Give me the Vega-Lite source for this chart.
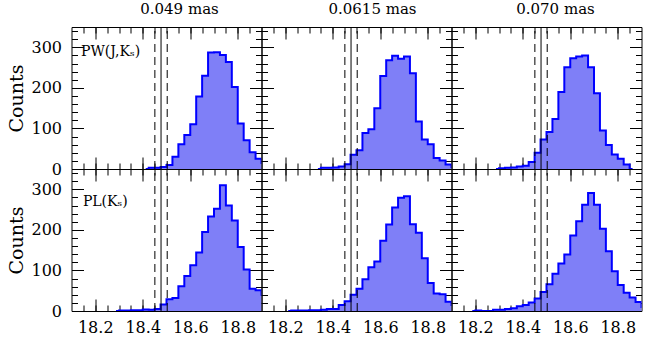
{
"$schema":"https://vega.github.io/schema/vega-lite/v6.json",
"padding":{"left":6.5,"top":1,"right":0,"bottom":0},
"datasets":{
"dash":[{"v":18.451},{"v":18.503}],
"solid":[{"v":18.477}],
"h":[
{"r":"PW","c":1,"x":18.4125,"n":0},{"r":"PW","c":1,"x":18.4375,"n":3},{"r":"PW","c":1,"x":18.4625,"n":3},{"r":"PW","c":1,"x":18.4875,"n":5},{"r":"PW","c":1,"x":18.5125,"n":10},{"r":"PW","c":1,"x":18.5375,"n":30},{"r":"PW","c":1,"x":18.5625,"n":61},{"r":"PW","c":1,"x":18.5875,"n":84},{"r":"PW","c":1,"x":18.6125,"n":110},{"r":"PW","c":1,"x":18.6375,"n":179},{"r":"PW","c":1,"x":18.6625,"n":230},{"r":"PW","c":1,"x":18.6875,"n":287},{"r":"PW","c":1,"x":18.7125,"n":288},{"r":"PW","c":1,"x":18.7375,"n":281},{"r":"PW","c":1,"x":18.7625,"n":264},{"r":"PW","c":1,"x":18.7875,"n":202},{"r":"PW","c":1,"x":18.8125,"n":112},{"r":"PW","c":1,"x":18.8375,"n":71},{"r":"PW","c":1,"x":18.8625,"n":41},{"r":"PW","c":1,"x":18.8875,"n":25},{"r":"PW","c":1,"x":18.9125,"n":15},
{"r":"PW","c":2,"x":18.3375,"n":0},{"r":"PW","c":2,"x":18.3625,"n":3},{"r":"PW","c":2,"x":18.3875,"n":3},{"r":"PW","c":2,"x":18.4125,"n":4},{"r":"PW","c":2,"x":18.4375,"n":6},{"r":"PW","c":2,"x":18.4625,"n":12},{"r":"PW","c":2,"x":18.4875,"n":35},{"r":"PW","c":2,"x":18.5125,"n":46},{"r":"PW","c":2,"x":18.5375,"n":89},{"r":"PW","c":2,"x":18.5625,"n":98},{"r":"PW","c":2,"x":18.5875,"n":150},{"r":"PW","c":2,"x":18.6125,"n":229},{"r":"PW","c":2,"x":18.6375,"n":268},{"r":"PW","c":2,"x":18.6625,"n":279},{"r":"PW","c":2,"x":18.6875,"n":272},{"r":"PW","c":2,"x":18.7125,"n":277},{"r":"PW","c":2,"x":18.7375,"n":236},{"r":"PW","c":2,"x":18.7625,"n":117},{"r":"PW","c":2,"x":18.7875,"n":73},{"r":"PW","c":2,"x":18.8125,"n":61},{"r":"PW","c":2,"x":18.8375,"n":27},{"r":"PW","c":2,"x":18.8625,"n":21},{"r":"PW","c":2,"x":18.8875,"n":11},{"r":"PW","c":2,"x":18.9125,"n":5},
{"r":"PW","c":3,"x":18.2875,"n":0},{"r":"PW","c":3,"x":18.3125,"n":2},{"r":"PW","c":3,"x":18.3375,"n":3},{"r":"PW","c":3,"x":18.3625,"n":4},{"r":"PW","c":3,"x":18.3875,"n":6},{"r":"PW","c":3,"x":18.4125,"n":8},{"r":"PW","c":3,"x":18.4375,"n":17},{"r":"PW","c":3,"x":18.4625,"n":40},{"r":"PW","c":3,"x":18.4875,"n":73},{"r":"PW","c":3,"x":18.5125,"n":91},{"r":"PW","c":3,"x":18.5375,"n":123},{"r":"PW","c":3,"x":18.5625,"n":190},{"r":"PW","c":3,"x":18.5875,"n":251},{"r":"PW","c":3,"x":18.6125,"n":273},{"r":"PW","c":3,"x":18.6375,"n":277},{"r":"PW","c":3,"x":18.6625,"n":280},{"r":"PW","c":3,"x":18.6875,"n":251},{"r":"PW","c":3,"x":18.7125,"n":187},{"r":"PW","c":3,"x":18.7375,"n":95},{"r":"PW","c":3,"x":18.7625,"n":59},{"r":"PW","c":3,"x":18.7875,"n":36},{"r":"PW","c":3,"x":18.8125,"n":25},{"r":"PW","c":3,"x":18.8375,"n":11},{"r":"PW","c":3,"x":18.8625,"n":0},
{"r":"PL","c":1,"x":18.2875,"n":0},{"r":"PL","c":1,"x":18.3125,"n":1},{"r":"PL","c":1,"x":18.3375,"n":1},{"r":"PL","c":1,"x":18.3625,"n":2},{"r":"PL","c":1,"x":18.3875,"n":2},{"r":"PL","c":1,"x":18.4125,"n":4},{"r":"PL","c":1,"x":18.4375,"n":3},{"r":"PL","c":1,"x":18.4625,"n":5},{"r":"PL","c":1,"x":18.4875,"n":16},{"r":"PL","c":1,"x":18.5125,"n":29},{"r":"PL","c":1,"x":18.5375,"n":32},{"r":"PL","c":1,"x":18.5625,"n":61},{"r":"PL","c":1,"x":18.5875,"n":86},{"r":"PL","c":1,"x":18.6125,"n":113},{"r":"PL","c":1,"x":18.6375,"n":144},{"r":"PL","c":1,"x":18.6625,"n":195},{"r":"PL","c":1,"x":18.6875,"n":233},{"r":"PL","c":1,"x":18.7125,"n":252},{"r":"PL","c":1,"x":18.7375,"n":310},{"r":"PL","c":1,"x":18.7625,"n":260},{"r":"PL","c":1,"x":18.7875,"n":223},{"r":"PL","c":1,"x":18.8125,"n":158},{"r":"PL","c":1,"x":18.8375,"n":102},{"r":"PL","c":1,"x":18.8625,"n":55},{"r":"PL","c":1,"x":18.8875,"n":51},{"r":"PL","c":1,"x":18.9125,"n":40},
{"r":"PL","c":2,"x":18.2125,"n":0},{"r":"PL","c":2,"x":18.2375,"n":1},{"r":"PL","c":2,"x":18.2625,"n":1},{"r":"PL","c":2,"x":18.2875,"n":1},{"r":"PL","c":2,"x":18.3125,"n":2},{"r":"PL","c":2,"x":18.3375,"n":2},{"r":"PL","c":2,"x":18.3625,"n":3},{"r":"PL","c":2,"x":18.3875,"n":5},{"r":"PL","c":2,"x":18.4125,"n":5},{"r":"PL","c":2,"x":18.4375,"n":15},{"r":"PL","c":2,"x":18.4625,"n":24},{"r":"PL","c":2,"x":18.4875,"n":40},{"r":"PL","c":2,"x":18.5125,"n":55},{"r":"PL","c":2,"x":18.5375,"n":78},{"r":"PL","c":2,"x":18.5625,"n":108},{"r":"PL","c":2,"x":18.5875,"n":122},{"r":"PL","c":2,"x":18.6125,"n":173},{"r":"PL","c":2,"x":18.6375,"n":213},{"r":"PL","c":2,"x":18.6625,"n":255},{"r":"PL","c":2,"x":18.6875,"n":279},{"r":"PL","c":2,"x":18.7125,"n":283},{"r":"PL","c":2,"x":18.7375,"n":214},{"r":"PL","c":2,"x":18.7625,"n":193},{"r":"PL","c":2,"x":18.7875,"n":130},{"r":"PL","c":2,"x":18.8125,"n":69},{"r":"PL","c":2,"x":18.8375,"n":43},{"r":"PL","c":2,"x":18.8625,"n":41},{"r":"PL","c":2,"x":18.8875,"n":23},{"r":"PL","c":2,"x":18.9125,"n":15},
{"r":"PL","c":3,"x":18.1875,"n":0},{"r":"PL","c":3,"x":18.2125,"n":1},{"r":"PL","c":3,"x":18.2375,"n":0},{"r":"PL","c":3,"x":18.2625,"n":0},{"r":"PL","c":3,"x":18.2875,"n":3},{"r":"PL","c":3,"x":18.3125,"n":3},{"r":"PL","c":3,"x":18.3375,"n":5},{"r":"PL","c":3,"x":18.3625,"n":7},{"r":"PL","c":3,"x":18.3875,"n":12},{"r":"PL","c":3,"x":18.4125,"n":15},{"r":"PL","c":3,"x":18.4375,"n":21},{"r":"PL","c":3,"x":18.4625,"n":31},{"r":"PL","c":3,"x":18.4875,"n":47},{"r":"PL","c":3,"x":18.5125,"n":66},{"r":"PL","c":3,"x":18.5375,"n":92},{"r":"PL","c":3,"x":18.5625,"n":117},{"r":"PL","c":3,"x":18.5875,"n":139},{"r":"PL","c":3,"x":18.6125,"n":186},{"r":"PL","c":3,"x":18.6375,"n":221},{"r":"PL","c":3,"x":18.6625,"n":262},{"r":"PL","c":3,"x":18.6875,"n":291},{"r":"PL","c":3,"x":18.7125,"n":262},{"r":"PL","c":3,"x":18.7375,"n":203},{"r":"PL","c":3,"x":18.7625,"n":147},{"r":"PL","c":3,"x":18.7875,"n":98},{"r":"PL","c":3,"x":18.8125,"n":64},{"r":"PL","c":3,"x":18.8375,"n":45},{"r":"PL","c":3,"x":18.8625,"n":33},{"r":"PL","c":3,"x":18.8875,"n":22},{"r":"PL","c":3,"x":18.9125,"n":10}
]},
"columns":3,
"spacing":0,
"bounds":"flush",
"concat":[
{"width":190,"height":142,"title":{"text":"0.049 mas","dx":13},
"layer":[
{"data":{"name":"h"},"transform":[{"filter":"datum.r=='PW'&&datum.c==1"}],"mark":{"type":"area","interpolate":"step","color":"#7f7ff7","clip":true},
"encoding":{"x":{"field":"x","type":"quantitative","scale":{"domain":[18.1,18.9],"nice":false,"zero":false},"axis":{"orient":"bottom","values":[18.15,18.2,18.25,18.3,18.35,18.4,18.45,18.5,18.55,18.6,18.65,18.7,18.75,18.8,18.85],"tickSize":-6,"labels":false,"title":null}},
"y":{"field":"n","type":"quantitative","scale":{"domain":[0,350],"nice":false},"axis":{"orient":"left","values":[20,40,60,80,100,120,140,160,180,200,220,240,260,280,300,320,340],"tickSize":-6,"labels":false,"title":null}}}},
{"data":{"name":"h"},"transform":[{"filter":"datum.r=='PW'&&datum.c==1"}],"mark":{"type":"line","interpolate":"step","color":"#0000ff","strokeWidth":2,"clip":true},
"encoding":{"x":{"field":"x","type":"quantitative","scale":{"domain":[18.1,18.9],"nice":false,"zero":false},"axis":{"orient":"top","values":[18.15,18.2,18.25,18.3,18.35,18.4,18.45,18.5,18.55,18.6,18.65,18.7,18.75,18.8,18.85],"tickSize":-6,"labels":false,"title":null}},
"y":{"field":"n","type":"quantitative","scale":{"domain":[0,350],"nice":false},"axis":{"orient":"right","values":[20,40,60,80,100,120,140,160,180,200,220,240,260,280,300,320,340],"tickSize":-6,"labels":false,"title":null}}}},
{"data":{"name":"dash"},"mark":{"type":"rule","color":"black","strokeWidth":1,"strokeDash":[8,5]},
"encoding":{"x":{"field":"v","type":"quantitative","scale":{"domain":[18.1,18.9],"nice":false,"zero":false},"axis":{"orient":"bottom","values":[18.2,18.4,18.6,18.8],"tickSize":-12,"labels":false,"title":null}},
"y":{"datum":0,"type":"quantitative","scale":{"domain":[0,350],"nice":false},"axis":{"orient":"left","values":[0,100,200,300],"tickSize":-12,"labels":true,"labelPadding":22,"title":"Counts","titlePadding":4}},"y2":{"datum":350}}},
{"data":{"name":"solid"},"mark":{"type":"rule","color":"black","strokeWidth":1},
"encoding":{"x":{"field":"v","type":"quantitative","scale":{"domain":[18.1,18.9],"nice":false,"zero":false},"axis":{"orient":"top","values":[18.2,18.4,18.6,18.8],"tickSize":-12,"labels":false,"title":null}},
"y":{"datum":0,"type":"quantitative","scale":{"domain":[0,350],"nice":false},"axis":{"orient":"right","values":[0,100,200,300],"tickSize":-12,"labels":false,"title":null}},"y2":{"datum":350}}},
{"data":{"values":[{"t":"PW(J,Kₛ)"}]},"mark":{"type":"text","align":"left","baseline":"alphabetic","fontSize":14,"font":"DejaVu Serif","color":"black"},
"encoding":{"x":{"datum":18.14,"type":"quantitative","scale":{"domain":[18.1,18.9],"nice":false,"zero":false},"axis":null},"y":{"datum":278,"type":"quantitative","scale":{"domain":[0,350],"nice":false},"axis":null},"text":{"field":"t"}}}
],
"resolve":{"axis":{"x":"independent","y":"independent"}}},
{"width":190,"height":142,"title":{"text":"0.0615 mas","dx":16},
"layer":[
{"data":{"name":"h"},"transform":[{"filter":"datum.r=='PW'&&datum.c==2"}],"mark":{"type":"area","interpolate":"step","color":"#7f7ff7","clip":true},
"encoding":{"x":{"field":"x","type":"quantitative","scale":{"domain":[18.1,18.9],"nice":false,"zero":false},"axis":{"orient":"bottom","values":[18.15,18.2,18.25,18.3,18.35,18.4,18.45,18.5,18.55,18.6,18.65,18.7,18.75,18.8,18.85],"tickSize":-6,"labels":false,"title":null}},
"y":{"field":"n","type":"quantitative","scale":{"domain":[0,350],"nice":false},"axis":{"orient":"left","values":[20,40,60,80,100,120,140,160,180,200,220,240,260,280,300,320,340],"tickSize":-6,"labels":false,"title":null}}}},
{"data":{"name":"h"},"transform":[{"filter":"datum.r=='PW'&&datum.c==2"}],"mark":{"type":"line","interpolate":"step","color":"#0000ff","strokeWidth":2,"clip":true},
"encoding":{"x":{"field":"x","type":"quantitative","scale":{"domain":[18.1,18.9],"nice":false,"zero":false},"axis":{"orient":"top","values":[18.15,18.2,18.25,18.3,18.35,18.4,18.45,18.5,18.55,18.6,18.65,18.7,18.75,18.8,18.85],"tickSize":-6,"labels":false,"title":null}},
"y":{"field":"n","type":"quantitative","scale":{"domain":[0,350],"nice":false},"axis":{"orient":"right","values":[20,40,60,80,100,120,140,160,180,200,220,240,260,280,300,320,340],"tickSize":-6,"labels":false,"title":null}}}},
{"data":{"name":"dash"},"mark":{"type":"rule","color":"black","strokeWidth":1,"strokeDash":[8,5]},
"encoding":{"x":{"field":"v","type":"quantitative","scale":{"domain":[18.1,18.9],"nice":false,"zero":false},"axis":{"orient":"bottom","values":[18.2,18.4,18.6,18.8],"tickSize":-12,"labels":false,"title":null}},
"y":{"datum":0,"type":"quantitative","scale":{"domain":[0,350],"nice":false},"axis":{"orient":"left","values":[0,100,200,300],"tickSize":-12,"labels":false,"title":null}},"y2":{"datum":350}}},
{"data":{"name":"solid"},"mark":{"type":"rule","color":"black","strokeWidth":1},
"encoding":{"x":{"field":"v","type":"quantitative","scale":{"domain":[18.1,18.9],"nice":false,"zero":false},"axis":{"orient":"top","values":[18.2,18.4,18.6,18.8],"tickSize":-12,"labels":false,"title":null}},
"y":{"datum":0,"type":"quantitative","scale":{"domain":[0,350],"nice":false},"axis":{"orient":"right","values":[0,100,200,300],"tickSize":-12,"labels":false,"title":null}},"y2":{"datum":350}}}
],
"resolve":{"axis":{"x":"independent","y":"independent"}}},
{"width":190,"height":142,"title":{"text":"0.070 mas","dx":9},
"layer":[
{"data":{"name":"h"},"transform":[{"filter":"datum.r=='PW'&&datum.c==3"}],"mark":{"type":"area","interpolate":"step","color":"#7f7ff7","clip":true},
"encoding":{"x":{"field":"x","type":"quantitative","scale":{"domain":[18.1,18.9],"nice":false,"zero":false},"axis":{"orient":"bottom","values":[18.15,18.2,18.25,18.3,18.35,18.4,18.45,18.5,18.55,18.6,18.65,18.7,18.75,18.8,18.85],"tickSize":-6,"labels":false,"title":null}},
"y":{"field":"n","type":"quantitative","scale":{"domain":[0,350],"nice":false},"axis":{"orient":"left","values":[20,40,60,80,100,120,140,160,180,200,220,240,260,280,300,320,340],"tickSize":-6,"labels":false,"title":null}}}},
{"data":{"name":"h"},"transform":[{"filter":"datum.r=='PW'&&datum.c==3"}],"mark":{"type":"line","interpolate":"step","color":"#0000ff","strokeWidth":2,"clip":true},
"encoding":{"x":{"field":"x","type":"quantitative","scale":{"domain":[18.1,18.9],"nice":false,"zero":false},"axis":{"orient":"top","values":[18.15,18.2,18.25,18.3,18.35,18.4,18.45,18.5,18.55,18.6,18.65,18.7,18.75,18.8,18.85],"tickSize":-6,"labels":false,"title":null}},
"y":{"field":"n","type":"quantitative","scale":{"domain":[0,350],"nice":false},"axis":{"orient":"right","values":[20,40,60,80,100,120,140,160,180,200,220,240,260,280,300,320,340],"tickSize":-6,"labels":false,"title":null}}}},
{"data":{"name":"dash"},"mark":{"type":"rule","color":"black","strokeWidth":1,"strokeDash":[8,5]},
"encoding":{"x":{"field":"v","type":"quantitative","scale":{"domain":[18.1,18.9],"nice":false,"zero":false},"axis":{"orient":"bottom","values":[18.2,18.4,18.6,18.8],"tickSize":-12,"labels":false,"title":null}},
"y":{"datum":0,"type":"quantitative","scale":{"domain":[0,350],"nice":false},"axis":{"orient":"left","values":[0,100,200,300],"tickSize":-12,"labels":false,"title":null}},"y2":{"datum":350}}},
{"data":{"name":"solid"},"mark":{"type":"rule","color":"black","strokeWidth":1},
"encoding":{"x":{"field":"v","type":"quantitative","scale":{"domain":[18.1,18.9],"nice":false,"zero":false},"axis":{"orient":"top","values":[18.2,18.4,18.6,18.8],"tickSize":-12,"labels":false,"title":null}},
"y":{"datum":0,"type":"quantitative","scale":{"domain":[0,350],"nice":false},"axis":{"orient":"right","values":[0,100,200,300],"tickSize":-12,"labels":false,"title":null}},"y2":{"datum":350}}}
],
"resolve":{"axis":{"x":"independent","y":"independent"}}},
{"width":190,"height":142,
"layer":[
{"data":{"name":"h"},"transform":[{"filter":"datum.r=='PL'&&datum.c==1"}],"mark":{"type":"area","interpolate":"step","color":"#7f7ff7","clip":true},
"encoding":{"x":{"field":"x","type":"quantitative","scale":{"domain":[18.1,18.9],"nice":false,"zero":false},"axis":{"orient":"bottom","values":[18.15,18.2,18.25,18.3,18.35,18.4,18.45,18.5,18.55,18.6,18.65,18.7,18.75,18.8,18.85],"tickSize":-6,"labels":false,"title":null}},
"y":{"field":"n","type":"quantitative","scale":{"domain":[0,350],"nice":false},"axis":{"orient":"left","values":[20,40,60,80,100,120,140,160,180,200,220,240,260,280,300,320,340],"tickSize":-6,"labels":false,"title":null}}}},
{"data":{"name":"h"},"transform":[{"filter":"datum.r=='PL'&&datum.c==1"}],"mark":{"type":"line","interpolate":"step","color":"#0000ff","strokeWidth":2,"clip":true},
"encoding":{"x":{"field":"x","type":"quantitative","scale":{"domain":[18.1,18.9],"nice":false,"zero":false},"axis":{"orient":"top","values":[18.15,18.2,18.25,18.3,18.35,18.4,18.45,18.5,18.55,18.6,18.65,18.7,18.75,18.8,18.85],"tickSize":-6,"labels":false,"title":null}},
"y":{"field":"n","type":"quantitative","scale":{"domain":[0,350],"nice":false},"axis":{"orient":"right","values":[20,40,60,80,100,120,140,160,180,200,220,240,260,280,300,320,340],"tickSize":-6,"labels":false,"title":null}}}},
{"data":{"name":"dash"},"mark":{"type":"rule","color":"black","strokeWidth":1,"strokeDash":[8,5]},
"encoding":{"x":{"field":"v","type":"quantitative","scale":{"domain":[18.1,18.9],"nice":false,"zero":false},"axis":{"orient":"bottom","values":[18.2,18.4,18.6,18.8],"tickSize":-12,"labels":true,"format":".1f","labelPadding":20,"title":null}},
"y":{"datum":0,"type":"quantitative","scale":{"domain":[0,350],"nice":false},"axis":{"orient":"left","values":[0,100,200,300],"tickSize":-12,"labels":true,"labelPadding":22,"title":"Counts","titlePadding":4}},"y2":{"datum":350}}},
{"data":{"name":"solid"},"mark":{"type":"rule","color":"black","strokeWidth":1},
"encoding":{"x":{"field":"v","type":"quantitative","scale":{"domain":[18.1,18.9],"nice":false,"zero":false},"axis":{"orient":"top","values":[18.2,18.4,18.6,18.8],"tickSize":-12,"labels":false,"title":null}},
"y":{"datum":0,"type":"quantitative","scale":{"domain":[0,350],"nice":false},"axis":{"orient":"right","values":[0,100,200,300],"tickSize":-12,"labels":false,"title":null}},"y2":{"datum":350}}},
{"data":{"values":[{"t":"PL(Kₛ)"}]},"mark":{"type":"text","align":"left","baseline":"alphabetic","fontSize":14,"font":"DejaVu Serif","color":"black"},
"encoding":{"x":{"datum":18.148,"type":"quantitative","scale":{"domain":[18.1,18.9],"nice":false,"zero":false},"axis":null},"y":{"datum":258,"type":"quantitative","scale":{"domain":[0,350],"nice":false},"axis":null},"text":{"field":"t"}}}
],
"resolve":{"axis":{"x":"independent","y":"independent"}}},
{"width":190,"height":142,
"layer":[
{"data":{"name":"h"},"transform":[{"filter":"datum.r=='PL'&&datum.c==2"}],"mark":{"type":"area","interpolate":"step","color":"#7f7ff7","clip":true},
"encoding":{"x":{"field":"x","type":"quantitative","scale":{"domain":[18.1,18.9],"nice":false,"zero":false},"axis":{"orient":"bottom","values":[18.15,18.2,18.25,18.3,18.35,18.4,18.45,18.5,18.55,18.6,18.65,18.7,18.75,18.8,18.85],"tickSize":-6,"labels":false,"title":null}},
"y":{"field":"n","type":"quantitative","scale":{"domain":[0,350],"nice":false},"axis":{"orient":"left","values":[20,40,60,80,100,120,140,160,180,200,220,240,260,280,300,320,340],"tickSize":-6,"labels":false,"title":null}}}},
{"data":{"name":"h"},"transform":[{"filter":"datum.r=='PL'&&datum.c==2"}],"mark":{"type":"line","interpolate":"step","color":"#0000ff","strokeWidth":2,"clip":true},
"encoding":{"x":{"field":"x","type":"quantitative","scale":{"domain":[18.1,18.9],"nice":false,"zero":false},"axis":{"orient":"top","values":[18.15,18.2,18.25,18.3,18.35,18.4,18.45,18.5,18.55,18.6,18.65,18.7,18.75,18.8,18.85],"tickSize":-6,"labels":false,"title":null}},
"y":{"field":"n","type":"quantitative","scale":{"domain":[0,350],"nice":false},"axis":{"orient":"right","values":[20,40,60,80,100,120,140,160,180,200,220,240,260,280,300,320,340],"tickSize":-6,"labels":false,"title":null}}}},
{"data":{"name":"dash"},"mark":{"type":"rule","color":"black","strokeWidth":1,"strokeDash":[8,5]},
"encoding":{"x":{"field":"v","type":"quantitative","scale":{"domain":[18.1,18.9],"nice":false,"zero":false},"axis":{"orient":"bottom","values":[18.2,18.4,18.6,18.8],"tickSize":-12,"labels":true,"format":".1f","labelPadding":20,"title":null}},
"y":{"datum":0,"type":"quantitative","scale":{"domain":[0,350],"nice":false},"axis":{"orient":"left","values":[0,100,200,300],"tickSize":-12,"labels":false,"title":null}},"y2":{"datum":350}}},
{"data":{"name":"solid"},"mark":{"type":"rule","color":"black","strokeWidth":1},
"encoding":{"x":{"field":"v","type":"quantitative","scale":{"domain":[18.1,18.9],"nice":false,"zero":false},"axis":{"orient":"top","values":[18.2,18.4,18.6,18.8],"tickSize":-12,"labels":false,"title":null}},
"y":{"datum":0,"type":"quantitative","scale":{"domain":[0,350],"nice":false},"axis":{"orient":"right","values":[0,100,200,300],"tickSize":-12,"labels":false,"title":null}},"y2":{"datum":350}}}
],
"resolve":{"axis":{"x":"independent","y":"independent"}}},
{"width":190,"height":142,
"layer":[
{"data":{"name":"h"},"transform":[{"filter":"datum.r=='PL'&&datum.c==3"}],"mark":{"type":"area","interpolate":"step","color":"#7f7ff7","clip":true},
"encoding":{"x":{"field":"x","type":"quantitative","scale":{"domain":[18.1,18.9],"nice":false,"zero":false},"axis":{"orient":"bottom","values":[18.15,18.2,18.25,18.3,18.35,18.4,18.45,18.5,18.55,18.6,18.65,18.7,18.75,18.8,18.85],"tickSize":-6,"labels":false,"title":null}},
"y":{"field":"n","type":"quantitative","scale":{"domain":[0,350],"nice":false},"axis":{"orient":"left","values":[20,40,60,80,100,120,140,160,180,200,220,240,260,280,300,320,340],"tickSize":-6,"labels":false,"title":null}}}},
{"data":{"name":"h"},"transform":[{"filter":"datum.r=='PL'&&datum.c==3"}],"mark":{"type":"line","interpolate":"step","color":"#0000ff","strokeWidth":2,"clip":true},
"encoding":{"x":{"field":"x","type":"quantitative","scale":{"domain":[18.1,18.9],"nice":false,"zero":false},"axis":{"orient":"top","values":[18.15,18.2,18.25,18.3,18.35,18.4,18.45,18.5,18.55,18.6,18.65,18.7,18.75,18.8,18.85],"tickSize":-6,"labels":false,"title":null}},
"y":{"field":"n","type":"quantitative","scale":{"domain":[0,350],"nice":false},"axis":{"orient":"right","values":[20,40,60,80,100,120,140,160,180,200,220,240,260,280,300,320,340],"tickSize":-6,"labels":false,"title":null}}}},
{"data":{"name":"dash"},"mark":{"type":"rule","color":"black","strokeWidth":1,"strokeDash":[8,5]},
"encoding":{"x":{"field":"v","type":"quantitative","scale":{"domain":[18.1,18.9],"nice":false,"zero":false},"axis":{"orient":"bottom","values":[18.2,18.4,18.6,18.8],"tickSize":-12,"labels":true,"format":".1f","labelPadding":20,"title":null}},
"y":{"datum":0,"type":"quantitative","scale":{"domain":[0,350],"nice":false},"axis":{"orient":"left","values":[0,100,200,300],"tickSize":-12,"labels":false,"title":null}},"y2":{"datum":350}}},
{"data":{"name":"solid"},"mark":{"type":"rule","color":"black","strokeWidth":1},
"encoding":{"x":{"field":"v","type":"quantitative","scale":{"domain":[18.1,18.9],"nice":false,"zero":false},"axis":{"orient":"top","values":[18.2,18.4,18.6,18.8],"tickSize":-12,"labels":false,"title":null}},
"y":{"datum":0,"type":"quantitative","scale":{"domain":[0,350],"nice":false},"axis":{"orient":"right","values":[0,100,200,300],"tickSize":-12,"labels":false,"title":null}},"y2":{"datum":350}}}
],
"resolve":{"axis":{"x":"independent","y":"independent"}}}
],
"config":{
"font":"DejaVu Serif",
"view":{"stroke":"black","strokeWidth":1},
"axis":{"domain":false,"grid":false,"tickColor":"black","tickWidth":1,"labelColor":"black","labelFont":"DejaVu Serif","labelFontSize":16,"labelFlush":false,"labelOverlap":false,"titleFont":"DejaVu Serif","titleFontSize":19,"titleFontWeight":"normal","titleColor":"black"},
"title":{"font":"DejaVu Serif","fontSize":15,"fontWeight":"normal","color":"black","baseline":"alphabetic","offset":10}
}
}
